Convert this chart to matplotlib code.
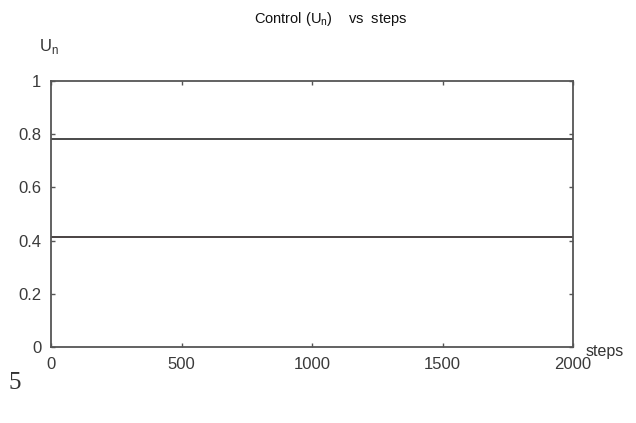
import matplotlib
matplotlib.use("Agg")
import matplotlib.pyplot as plt

steps = [0, 2000]
u_upper = [0.783, 0.783]
u_lower = [0.414, 0.414]
xticks = [0, 500, 1000, 1500, 2000]
yticks = [0, 0.2, 0.4, 0.6, 0.8, 1]
ytick_labels = ["0", "0.2", "0.4", "0.6", "0.8", "1"]

plt.rcParams['font.family'] = ['Liberation Sans', 'DejaVu Sans']

fig = plt.figure(figsize=(6.36, 4.23), dpi=100)
ax = fig.add_axes([0.0802, 0.1797, 0.8208, 0.6288])

ax.plot(steps, u_upper, color='#3a3a3a', lw=1.3)
ax.plot(steps, u_lower, color='#3a3434', lw=1.3)

ax.set_xlim(0, 2000)
ax.set_ylim(0, 1)
ax.set_xticks(xticks)
ax.set_xticklabels([str(t) for t in xticks])
ax.set_yticks(yticks)
ax.set_yticklabels(ytick_labels)
ax.tick_params(direction='in', length=3, width=1, colors='#555555',
               labelcolor='#3a3a3a', labelsize=12, top=True, right=True, pad=7)
for s in ax.spines.values():
    s.set_color('#555555')
    s.set_linewidth(1.3)

fig.text(0.52, 0.955, r"Control (U$_\mathregular{n}$)    vs  steps", ha='center', va='center',
         fontsize=10.5, color='#111111')
fig.text(0.061, 0.89, r"U$_\mathregular{n}$", ha='left', va='center', fontsize=12, color='#333333')
fig.text(0.92, 0.168, "steps", ha='left', va='center', fontsize=11.5, color='#333333')
fig.text(0.014, 0.095, "5", ha='left', va='center', fontsize=18, color='#333333',
         family='Liberation Serif')

fig.savefig("out.png", dpi=100)
